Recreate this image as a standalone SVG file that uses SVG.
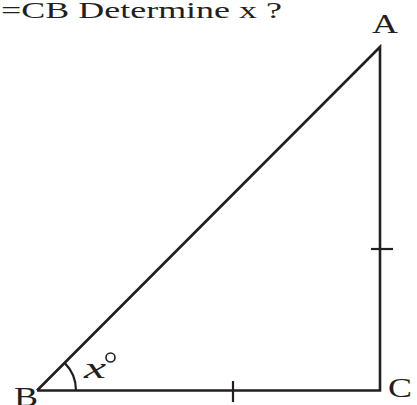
<svg xmlns="http://www.w3.org/2000/svg" width="417" height="405" viewBox="0 0 417 405">
<style>
.ln{stroke:#231f20;stroke-width:2.6;fill:none;stroke-linecap:butt;stroke-linejoin:miter}
.tk{stroke:#231f20;stroke-width:2.2;fill:none}
.lbl{font-family:"Liberation Serif","Times New Roman",serif;fill:#231f20}
</style>
<rect width="417" height="405" fill="#fff"/>
<text class="lbl" x="1" y="18" font-size="23" textLength="281" lengthAdjust="spacingAndGlyphs">=CB Determine x ?</text>
<g id="connectors">
<polyline class="ln" points="37,390.5 380,47 380,390.5 37,390.5"/>
<line class="tk" x1="371" y1="249" x2="393" y2="249"/>
<line class="tk" x1="233" y1="381" x2="233" y2="402"/>
<path class="tk" d="M76,390.5 A39,39 0 0 0 64.6,362.9"/>
</g>
<g id="A"><text class="lbl" x="372" y="33" font-size="27" textLength="26" lengthAdjust="spacingAndGlyphs">A</text></g>
<g id="B"><text class="lbl" x="14" y="406" font-size="27" textLength="24" lengthAdjust="spacingAndGlyphs">B</text></g>
<g id="C"><text class="lbl" x="388" y="397" font-size="28" textLength="24" lengthAdjust="spacingAndGlyphs">C</text></g>
<g id="angle"><text class="lbl" x="84" y="378" font-size="30" font-style="italic" textLength="22" lengthAdjust="spacingAndGlyphs">x</text>
<circle cx="110.5" cy="357.5" r="4.5" fill="none" stroke="#231f20" stroke-width="1.6"/></g>
</svg>
